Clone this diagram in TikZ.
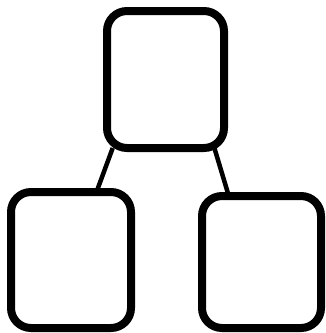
\documentclass[tikz,border=0pt]{standalone}
\usetikzlibrary{backgrounds}
\begin{document}
\begin{tikzpicture}[x=1pt,y=-1pt,
  boxnode/.style={draw=black, line width=8pt, rounded corners=20pt, fill=white, inner sep=0pt, outer sep=0pt},
  link/.style={draw=black, line width=4.5pt}]
\useasboundingbox (0,0) rectangle (326,333);
\node[boxnode, minimum width=117pt, minimum height=137pt] (top) at (165.5,79.5) {};
\node[boxnode, minimum width=120pt, minimum height=136pt] (bl) at (71,260) {};
\node[boxnode, minimum width=119pt, minimum height=132pt] (br) at (261.5,262) {};
\begin{pgfonlayer}{background}
\path[fill=white] (0,0) rectangle (326,333);
\draw[link] ([xshift=5.7pt]top.south west) -- ([xshift=85.5pt]bl.north west);
\draw[link] ([xshift=-9.6pt]top.south east) -- ([xshift=26.8pt]br.north west);
\end{pgfonlayer}
\end{tikzpicture}
\end{document}
